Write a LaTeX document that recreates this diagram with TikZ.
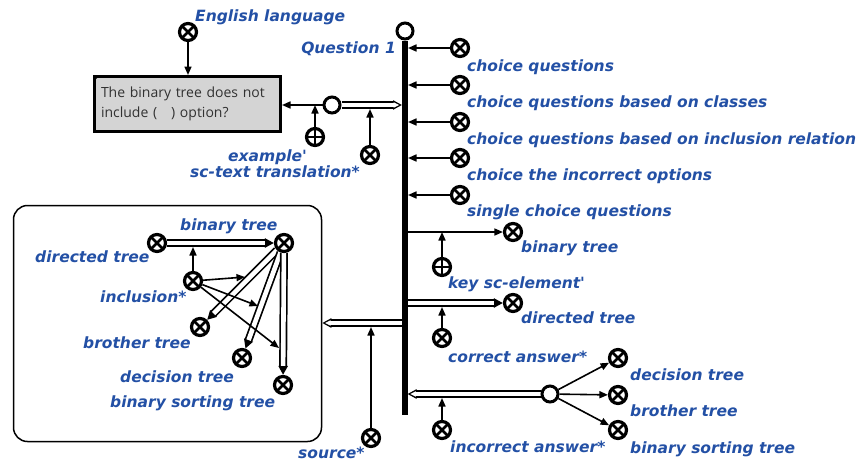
\documentclass[tikz,border=0pt]{standalone}
\usepackage{fontspec}
\newfontfamily\labfont{DejaVu Sans}
\newfontfamily\boxfont{Open Sans}
\usetikzlibrary{arrows.meta,backgrounds,calc}
\definecolor{labblue}{RGB}{35,80,165}
\definecolor{boxgray}{RGB}{212,212,212}
\definecolor{boxtext}{RGB}{50,50,50}
\newcommand\dblfill[2]{\draw[dblout] #1 -- #2; \draw[dblin] #1 -- #2;}
\newcommand\dblhollow[2]{\draw[dblout] #1 -- #2; \draw[dblinh] #1 -- #2;}
\begin{document}
\begin{tikzpicture}[x=1pt,y=-1pt,
 elem/.style={circle,draw,line width=3.2pt,fill=white,minimum size=17pt,inner sep=0pt,
   path picture={\draw[line width=2.8pt] (path picture bounding box.north west) -- (path picture bounding box.south east) (path picture bounding box.north east) -- (path picture bounding box.south west);}},
 role/.style={circle,draw,line width=3.2pt,fill=white,minimum size=17pt,inner sep=0pt,
   path picture={\draw[line width=2.5pt] (path picture bounding box.north) -- (path picture bounding box.south) (path picture bounding box.east) -- (path picture bounding box.west);}},
 tuple/.style={circle,draw,line width=3pt,fill=white,minimum size=16pt,inner sep=0pt},
 lab/.style={font=\labfont\bfseries\itshape\fontsize{15.5}{18}\selectfont,text=labblue,inner sep=0pt,anchor=base west},
 arc/.style={line width=1.6pt,-{Triangle[length=8.5pt,width=7pt]}},
 dblout/.style={line width=8pt,-{Triangle[length=9pt,width=9pt]}},
 dblin/.style={line width=4.6pt,white,shorten >=9pt},
 dblinh/.style={line width=4.6pt,white,shorten >=2.8pt,-{Triangle[length=5.5pt,width=5pt]}},
 bus/.style={line width=5.5pt},
 txtbox/.style={draw,line width=3pt,fill=boxgray,minimum width=186pt,minimum height=55pt,
   text width=173pt,inner xsep=6.5pt,align=left,text=boxtext,
   font=\boxfont\fontsize{14}{20}\selectfont},
 contour/.style={draw,line width=1.5pt,rounded corners=14pt,minimum width=308pt,minimum height=236pt}
]
\useasboundingbox (0,0) rectangle (862,464);

% ---------- top part
\node[elem] (eng) at (188,32) {};
\node[lab] (engl) at (195,21) {English language};
\node[tuple] (q) at (405,31) {};
\node[lab,anchor=base east] (ql) at (396,53) {Question 1};
\coordinate (barend) at (405,415);

\node[elem] (c1) at (460,48) {};
\node[elem] (c2) at (460,85) {};
\node[elem] (c3) at (460,122) {};
\node[elem] (c4) at (460,158) {};
\node[elem] (c5) at (460,195) {};
\node[lab] (c1l) at (467,71) {choice questions};
\node[lab] (c2l) at (467,107.5) {choice questions based on classes};
\node[lab] (c3l) at (467,144) {choice questions based on inclusion relation};
\node[lab] (c4l) at (467,180.5) {choice the incorrect options};
\node[lab] (c5l) at (467,216) {single choice questions};
\coordinate (b1) at (408,48);
\coordinate (b2) at (408,85);
\coordinate (b3) at (408,122);
\coordinate (b4) at (408,158);
\coordinate (b5) at (408,195);

\node[txtbox] (tb) at (187.5,104) {The binary tree does not\\include (\hspace{1em}) option?};
\fill (tb.north west) -- ++(7,0) -- ++(-7,7) -- cycle;

\node[tuple] (tup1) at (332,105) {};
\node[role] (ex) at (315,137) {};
\node[elem] (sct) at (370,155) {};
\node[lab] (exl) at (228,161) {example'};
\node[lab] (sctl) at (190,177) {sc-text translation*};
\coordinate (bt1) at (402,105);
\coordinate (sctp) at (370,109);

% ---------- right part
\node[elem] (btr) at (513,232) {};
\node[role] (key) at (442,267) {};
\node[lab] (btrl) at (521,252) {binary tree};
\node[lab] (keyl) at (448,288) {key sc-element'};
\coordinate (bk) at (408,232);
\coordinate (kp) at (442,232);

\node[elem] (dtr) at (513,303) {};
\node[elem] (corr) at (442,338) {};
\node[lab] (dtrl) at (521,323) {directed tree};
\node[lab] (corrl) at (448,362) {correct answer*};
\coordinate (bd) at (405,303);
\coordinate (cp) at (442,307);

\node[elem] (src) at (371,438) {};
\node[lab] (srcl) at (298,458) {source*};
\coordinate (bs) at (405,323);
\coordinate (sp) at (371,327);

\node[tuple] (tup2) at (550,394) {};
\node[elem] (inc) at (442,430) {};
\node[lab] (incl) at (450,452) {incorrect answer*};
\coordinate (bi) at (407.5,394);
\coordinate (ip) at (442,398);
\node[elem] (decr) at (618,358) {};
\node[elem] (bror) at (618,395) {};
\node[elem] (bstr) at (618,430) {};
\node[lab] (decrl) at (630,380) {decision tree};
\node[lab] (brorl) at (630,416) {brother tree};
\node[lab] (bstrl) at (630,453) {binary sorting tree};

% ---------- left structure
\node[contour] (ctr) at (167.5,323.5) {};
\node[elem] (dtl) at (157,243) {};
\node[elem] (btl) at (284,243) {};
\node[elem] (incn) at (193,281) {};
\node[elem] (brol) at (200,327) {};
\node[elem] (decl) at (242,358) {};
\node[elem] (bstl) at (283,385) {};
\node[lab] (dtll) at (35,262) {directed tree};
\node[lab] (btll) at (180,230) {binary tree};
\node[lab] (incnl) at (100,302) {inclusion*};
\node[lab] (broll) at (83,348) {brother tree};
\node[lab] (decll) at (120,382) {decision tree};
\node[lab] (bstll) at (110,407) {binary sorting tree};
\coordinate (p0) at (193,247);
\coordinate (p1) at (245,277);
\coordinate (p2) at (258,306);
\coordinate (p3) at (279,348);

% ---------- connectors
\begin{scope}[on background layer]
 \dblhollow{(tup1)}{(bt1)}
 \dblfill{(bd)}{(dtr)}
 \dblhollow{(bs)}{(bs -| ctr.east)}
 \dblhollow{(tup2)}{(bi)}
 \dblfill{(dtl)}{(btl)}
 \dblfill{(btl)}{(brol)}
 \dblfill{(btl)}{(decl)}
 \dblfill{(btl)}{(bstl)}

 \draw[arc] (eng) -- (eng |- tb.north);
 \draw[arc] (tup1) -- (tup1 -| tb.east);
 \draw[arc] (ex) -- (ex |- tup1);
 \draw[arc] (sct) -- (sctp);
 \draw[arc] (c1) -- (b1);
 \draw[arc] (c2) -- (b2);
 \draw[arc] (c3) -- (b3);
 \draw[arc] (c4) -- (b4);
 \draw[arc] (c5) -- (b5);
 \draw[arc] (bk) -- (btr);
 \draw[arc] (key) -- (kp);
 \draw[arc] (corr) -- (cp);
 \draw[arc] (src) -- (sp);
 \draw[arc] (inc) -- (ip);
 \draw[arc] (tup2) -- (decr);
 \draw[arc] (tup2) -- (bror);
 \draw[arc] (tup2) -- (bstr);
 \draw[arc] (incn) -- (p0);
 \draw[arc] (incn) -- (p1);
 \draw[arc] (incn) -- (p2);
 \draw[arc] (incn) -- (p3);

 \draw[bus] (q.south) -- (barend);
\end{scope}
\end{tikzpicture}
\end{document}
